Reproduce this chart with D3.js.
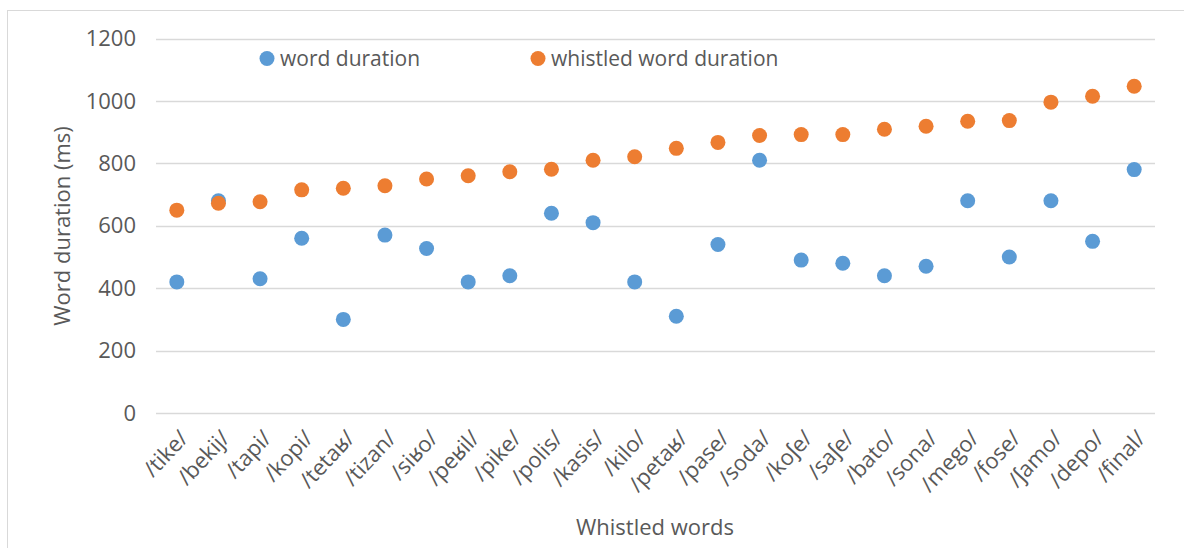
<!DOCTYPE html>
<html><head><meta charset="utf-8">
<script src="https://cdn.jsdelivr.net/npm/d3@7"></script>
<style>body{margin:0;background:#fff;} text{font-family:"Open Sans","Noto Sans","Liberation Sans",sans-serif;fill:#595959;}</style>
</head><body>
<svg id="chart" width="1184" height="548"></svg>
<script>
const categories = ["/tike/","/bekij/","/tapi/","/kopi/","/tetaʁ/","/tizan/","/siʁo/","/peʁil/","/pike/","/polis/","/kasis/","/kilo/","/petaʁ/","/pase/","/soda/","/koʃe/","/saʃe/","/bato/","/sona/","/mego/","/fose/","/ʃamo/","/depo/","/final/"];
const wordDuration = [420,680,430,560,300,570,527,420,440,640,610,420,310,540,810,490,480,440,470,680,500,680,550,780];
const whistledDuration = [650,672,677,715,720,728,750,760,773,781,810,821,848,867,889,892,892,909,919,935,937,996,1015,1047];
const yTicks = [0,200,400,600,800,1000,1200];
const seriesNames = ["word duration","whistled word duration"];
const colors = ["#5B9BD5","#ED7D31"];

(function(){
const svg = d3.select("#chart");
svg.append("rect").attr("x",7.5).attr("y",10.5).attr("width",1200).attr("height",560)
  .attr("fill","none").attr("stroke","#d9d9d9");

const pl = 156, pr = 1155, pt = 38.5, pb = 413;
const x = d3.scaleBand().domain(categories).range([pl,pr]);
const y = d3.scaleLinear().domain([0,1200]).range([pb,pt]);

svg.append("g").selectAll("line").data(yTicks).join("line")
  .attr("x1",pl).attr("x2",pr)
  .attr("y1",d=>Math.round(y(d))+0.5).attr("y2",d=>Math.round(y(d))+0.5)
  .attr("stroke","#d9d9d9").attr("stroke-width",1.3);

svg.append("g").selectAll("text").data(yTicks).join("text")
  .attr("x",136).attr("y",d=>y(d)).attr("dy","0.35em").attr("text-anchor","end")
  .style("font-size","22px").text(d=>d);

svg.append("g").selectAll("text").data(categories).join("text")
  .attr("transform",d=>`translate(${x(d)+x.bandwidth()/2+7},${434}) rotate(-47)`)
  .attr("text-anchor","end").attr("dy","0.35em")
  .style("font-size","22px").text(d=>d);

[wordDuration, whistledDuration].forEach((vals,si)=>{
  svg.append("g").selectAll("circle").data(vals).join("circle")
    .attr("cx",(d,i)=>x(categories[i])+x.bandwidth()/2)
    .attr("cy",d=>y(d)).attr("r",7.5).attr("fill",colors[si]);
});

const legX = [267, 538];
seriesNames.forEach((n,i)=>{
  svg.append("circle").attr("cx",legX[i]).attr("cy",58.5).attr("r",7.5).attr("fill",colors[i]);
  svg.append("text").attr("x",legX[i]+13).attr("y",58.5).attr("dy","0.35em")
    .style("font-size","21px").text(n);
});

svg.append("text").attr("transform","translate(62,226) rotate(-90)")
  .attr("text-anchor","middle").attr("dy","0.35em").style("font-size","22px").text("Word duration (ms)");
svg.append("text").attr("x",655).attr("y",527).attr("text-anchor","middle").attr("dy","0.35em")
  .style("font-size","22px").text("Whistled words");
})();
</script>
</body></html>
